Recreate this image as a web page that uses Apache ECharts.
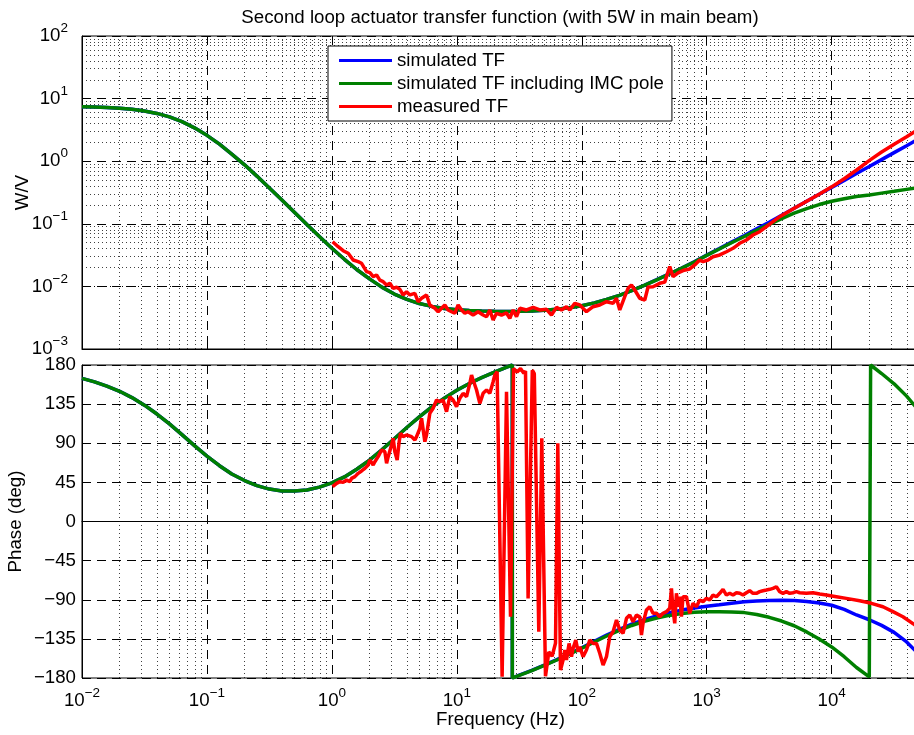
<!DOCTYPE html>
<html>
<head>
<meta charset="utf-8">
<title>Second loop actuator transfer function</title>
<script src="https://cdn.jsdelivr.net/npm/echarts/dist/echarts.min.js"></script>
<style>
  html, body { margin: 0; padding: 0; background: #fff; }
  #chart { width: 914px; height: 735px; }
</style>
</head>
<body>
<div id="chart"></div>
<script>
// ---- Model curves (simulated), sampled every 0.1 decade ----
const simFreq = [
  0.01, 0.0126, 0.0158, 0.02, 0.0251, 0.0316, 0.0398, 0.0501, 0.0631, 0.0794,
  0.1, 0.126, 0.158, 0.2, 0.251, 0.316, 0.398, 0.501, 0.631, 0.794,
  1, 1.26, 1.58, 2, 2.51, 3.16, 3.98, 5.01, 6.31, 7.94,
  10, 12.6, 15.8, 20, 25.1, 31.6, 39.8, 50.1, 63.1, 79.4,
  100, 126, 158, 200, 251, 316, 398, 501, 631, 794,
  1000, 1260, 1580, 2000, 2510, 3160, 3980, 5010, 6310, 7940,
  10000, 12600, 15800, 20000, 25100, 31600, 39800, 50100
];
// simulated TF magnitude (W/V)
const simMag = [
  7.43, 7.34, 7.22, 7.03, 6.75, 6.35, 5.80, 5.10, 4.28, 3.41,
  2.59, 1.87, 1.30, 0.876, 0.578, 0.373, 0.239, 0.153, 0.0975, 0.0627,
  0.0407, 0.0271, 0.0186, 0.0132, 0.00973, 0.00755, 0.00619, 0.00532, 0.00479, 0.00445,
  0.00424, 0.00411, 0.00403, 0.00400, 0.00399, 0.00402, 0.00406, 0.00416, 0.00432, 0.00456,
  0.00492, 0.00545, 0.00619, 0.00721, 0.00859, 0.0104, 0.0128, 0.0158, 0.0197, 0.0248,
  0.0316, 0.0401, 0.0509, 0.0649, 0.0830, 0.106, 0.137, 0.177, 0.229, 0.296,
  0.382, 0.493, 0.637, 0.822, 1.06, 1.37, 1.77, 2.29
];
// simulated TF including IMC pole, magnitude (W/V)
const imcMag = [
  7.43, 7.34, 7.22, 7.03, 6.75, 6.35, 5.80, 5.10, 4.28, 3.41,
  2.59, 1.87, 1.30, 0.876, 0.578, 0.373, 0.239, 0.153, 0.0975, 0.0627,
  0.0407, 0.0271, 0.0186, 0.0132, 0.00973, 0.00755, 0.00619, 0.00532, 0.00479, 0.00445,
  0.00424, 0.00411, 0.00403, 0.00400, 0.00399, 0.00402, 0.00406, 0.00416, 0.00432, 0.00456,
  0.00492, 0.00545, 0.00619, 0.00721, 0.00859, 0.0104, 0.0127, 0.0158, 0.0196, 0.0245,
  0.0313, 0.0395, 0.0498, 0.0627, 0.0787, 0.0980, 0.121, 0.148, 0.175, 0.203,
  0.229, 0.252, 0.272, 0.289, 0.309, 0.330, 0.355, 0.382
];
// simulated TF phase (deg, wrapped to [-180, 180])
const simPhase = [
  164.6, 160.6, 155.8, 149.8, 142.5, 133.8, 123.6, 112.2, 99.9, 87.3,
  75.2, 64.2, 54.7, 47.1, 41.2, 37.3, 35.2, 35.0, 36.3, 39.5,
  44.4, 51.3, 60.1, 70.5, 82.5, 95.1, 108.1, 120.4, 131.9, 141.9,
  150.9, 158.7, 165.5, 171.7, 177.5, -176.8, -171.2, -165.2, -158.9, -152.2,
  -145.2, -137.8, -130.7, -124.0, -118.0, -112.8, -108.5, -104.8, -101.9, -99.5,
  -97.5, -95.8, -94.0, -92.3, -91.3, -90.8, -90.6, -90.8, -92.0, -93.8,
  -96.3, -101.0, -107.5, -113.0, -119.5, -127.5, -138.5, -153.0
];
// simulated TF including IMC pole, phase (deg)
const imcPhase = [
  164.6, 160.6, 155.8, 149.8, 142.5, 133.8, 123.6, 112.2, 99.9, 87.3,
  75.2, 64.2, 54.7, 47.1, 41.2, 37.3, 35.2, 35.0, 36.3, 39.5,
  44.4, 51.3, 60.1, 70.5, 82.5, 95.1, 108.1, 120.4, 131.9, 141.9,
  150.9, 158.7, 165.5, 171.7, 177.5, -177.0, -171.5, -165.5, -159.3, -152.7,
  -145.8, -138.6, -131.7, -125.3, -119.6, -114.8, -111.0, -108.0, -105.9, -104.5,
  -103.8, -103.8, -104.0, -104.8, -106.9, -110.2, -114.5, -119.9, -127.0, -135.2,
  -144.3, -155.5, -167.9, -178.7, 170.2, 158.4, 144.2, 127.2
];
// phase wrap crossings: [frequency, value before, value after]
const simPhaseWraps = [[27.8, 180, -180]];
const imcPhaseWraps = [[27.8, 180, -180], [20500, -180, 180]];

// ---- Measured TF ----
const measMagFreq = [
  1.013, 1.123, 1.231, 1.350, 1.480, 1.623, 1.728, 1.895, 2.014, 2.140,
  2.279, 2.421, 2.573, 2.740, 2.911, 3.093, 3.293, 3.499, 3.719, 3.959,
  4.207, 4.613, 4.902, 5.219, 5.722, 6.081, 6.668, 7.087, 7.544, 8.017,
  8.518, 9.071, 9.638, 10.24, 10.90, 11.59, 12.31, 13.50, 14.80, 16.23,
  17.29, 18.37, 19.52, 20.78, 22.79, 24.98, 26.55, 28.21, 30.04, 31.92,
  36.12, 40.78, 46.13, 52.19, 57.23, 62.75, 68.81, 75.43, 80.17, 87.90,
  96.38, 109.0, 123.1, 139.3, 157.6, 178.0, 189.5, 201.4, 220.8, 234.6,
  249.8, 265.5, 291.1, 319.2, 339.1, 371.8, 420.7, 461.3, 505.8, 537.6,
  589.4, 646.3, 731.1, 801.7, 879.0, 934.0, 1024, 1123, 1271, 1438,
  1623, 1837, 2078, 2346, 2655, 3003, 3392, 3837, 5012, 6310,
  7943, 10000, 12590, 15850, 19950, 25120, 31620, 39810, 50120
];
const measMag = [
  0.0518, 0.0431, 0.0372, 0.0338, 0.0264, 0.0248, 0.0234, 0.0172, 0.0166, 0.0143,
  0.0152, 0.0126, 0.0119, 0.0105, 0.0112, 0.0093, 0.00968, 0.0090, 0.0073, 0.00823,
  0.0073, 0.00776, 0.0057, 0.00646, 0.0073, 0.00505, 0.00447, 0.00394, 0.00447, 0.00505,
  0.0042, 0.00394, 0.00372, 0.00505, 0.0042, 0.00372, 0.00394, 0.00349, 0.00394, 0.00349,
  0.00328, 0.0042, 0.0029, 0.00372, 0.00349, 0.00376, 0.00309, 0.0042, 0.00328, 0.00447,
  0.0042, 0.00463, 0.0042, 0.0043, 0.00349, 0.00463, 0.0042, 0.00474, 0.0042, 0.00537,
  0.00505, 0.00394, 0.00474, 0.00505, 0.0057, 0.00537, 0.00646, 0.0042, 0.00686, 0.00933,
  0.0105, 0.00875, 0.00646, 0.00607, 0.00977, 0.00988, 0.0112, 0.0117, 0.0207, 0.0143,
  0.0164, 0.0179, 0.0190, 0.0220, 0.0264, 0.0248, 0.0264, 0.0298, 0.0318, 0.0358,
  0.0406, 0.0488, 0.0551, 0.0662, 0.0748, 0.0899, 0.108, 0.130, 0.177, 0.229,
  0.296, 0.389, 0.525, 0.724, 1.02, 1.40, 1.86, 2.45, 3.30
];
const measPhaseFreq = [
  1.013, 1.090, 1.159, 1.231, 1.311, 1.393, 1.438, 1.528, 1.623, 1.728,
  1.837, 1.951, 2.014, 2.078, 2.140, 2.208, 2.346, 2.498, 2.655, 2.740,
  2.821, 3.003, 3.093, 3.192, 3.330, 3.455, 3.545, 3.719, 3.959, 4.341,
  4.613, 4.760, 5.058, 5.219, 5.375, 5.546, 5.722, 6.081, 6.461, 6.880,
  7.311, 7.768, 8.273, 8.790, 9.341, 9.945, 10.57, 11.23, 11.96, 12.71,
  13.11, 13.50, 14.38, 15.28, 16.23, 17.29, 18.37, 19.52, 20.14, 21.01,
  23.04, 23.77, 24.98, 26.89, 28.42, 30.37, 32.33, 34.36, 35.45, 37.19,
  40.18, 41.69, 45.29, 47.86, 51.23, 54.45, 57.87, 61.61, 64.27, 67.54,
  70.85, 73.11, 75.43, 79.13, 82.71, 85.19, 89.54, 93.42, 96.38, 102.4,
  109.0, 115.9, 123.1, 131.1, 139.3, 148.1, 157.6, 167.5, 178.0, 189.5,
  201.4, 214.0, 227.9, 242.1, 257.3, 274.0, 291.1, 300.3, 309.3, 329.3,
  349.9, 371.8, 396.0, 420.7, 447.1, 476.0, 505.8, 522.0, 537.6, 554.6,
  572.3, 589.4, 608.1, 627.5, 646.3, 688.1, 731.1, 776.9, 827.1, 879.0,
  934.0, 994.6, 1057, 1123, 1196, 1271, 1350, 1438, 1528, 1623,
  1729, 1837, 1951, 2078, 2208, 2346, 2498, 2655, 2821, 3003,
  3192, 3392, 3611, 3837, 4078, 4341, 4613, 4903, 5219, 5546,
  6275, 7087, 8017, 9070, 10905, 13111, 16749, 20778, 25735, 30934,
  37185, 45290, 50000
];
const measPhase = [
  40.1, 43.9, 45.8, 45.0, 47.7, 45.8, 49.6, 51.6, 55.4, 58.1,
  61.1, 65.0, 70.7, 72.6, 65.0, 68.8, 74.6, 82.2, 80.3, 66.9,
  74.6, 88.0, 95.7, 80.3, 70.7, 91.8, 101.4, 97.6, 99.5, 97.6,
  93.7, 97.6, 107.2, 118.7, 116.7, 91.8, 99.5, 124.4, 130.2, 139.7,
  137.8, 139.8, 126.3, 143.6, 139.8, 132.1, 141.7, 147.4, 143.6, 158.9,
  168.5, 162.7, 151.2, 135.9, 147.4, 151.2, 147.4, 160.8, 168.5, 172.3,
  -178.5, -178.5, 149.3, -109.5, 176.0, 172.0, 176.0, 170.4, 173.0, -88.4,
  174.0, 170.0, -126.7, 95.6, -178.0, -150.0, -155.0, -140.0, 89.9, -170.8,
  -159.3, -147.8, -159.3, -140.2, -155.5, -145.9, -136.3, -149.7, -144.0, -155.5,
  -147.8, -136.3, -140.2, -140.2, -151.6, -165.1, -155.5, -132.5, -126.7, -113.3,
  -124.8, -128.6, -111.4, -107.6, -115.2, -107.6, -109.5, -130.6, -117.1, -101.8,
  -98.0, -105.6, -105.6, -109.5, -105.6, -103.7, -99.9, -76.9, -101.8, -117.1,
  -82.6, -98.0, -86.5, -109.5, -86.5, -86.5, -105.6, -94.1, -98.0, -90.3,
  -92.2, -88.4, -90.3, -84.6, -86.5, -82.6, -78.0, -84.6, -82.6, -84.6,
  -81.9, -82.6, -84.6, -81.9, -79.6, -82.6, -82.6, -80.7, -79.6, -78.8,
  -78.0, -76.9, -75.0, -80.7, -82.6, -80.7, -82.6, -81.9, -80.7, -81.9,
  -82.6, -81.9, -83.4, -84.6, -86.5, -88.4, -91.1, -94.1, -98.0, -103.7,
  -109.5, -117.9, -123.0
];

// ---- Axis ranges ----
const freqMin = 0.01, freqMax = 50000;
const magMin = 0.001, magMax = 100;
const phaseMin = -180, phaseMax = 180, phaseStep = 45;

const FONT = '"Liberation Sans", Arial, Helvetica, sans-serif';
const FS = 18.7;
const BLUE = '#0000ff', GREEN = '#008000', RED = '#ff0000';

function zip(xs, ys) { return xs.map((x, i) => [x, ys[i]]); }
function withWraps(xs, ys, wraps) {
  const pts = zip(xs, ys);
  wraps.forEach(([f, a, b]) => {
    const i = pts.findIndex(p => p[0] > f);
    pts.splice(i, 0, [f, a], [f, b]);
  });
  return pts;
}
// minor log grid positions: 2..9 times each decade
function minorLog(lo, hi) {
  const out = [];
  for (let k = Math.floor(Math.log10(lo)); k <= Math.ceil(Math.log10(hi)); k++) {
    for (let m = 2; m <= 9; m++) {
      const v = m * Math.pow(10, k);
      if (v > lo && v < hi) out.push(v);
    }
  }
  return out;
}
const minus = s => String(s).replace('-', '\u2212');
function powLabel(v) {
  const e = Math.round(Math.log10(v));
  return '{b|10}{e|' + minus(e) + '}';
}
const powRich = {
  b: { fontFamily: FONT, fontSize: FS, color: '#000', lineHeight: 28 },
  e: { fontFamily: FONT, fontSize: 13.5, color: '#000', lineHeight: 13, padding: [0, 0, 15, 0] }
};
const nameStyle = { fontFamily: FONT, fontSize: FS, color: '#000' };

const majorGrid = { show: true, lineStyle: { color: '#000', width: 1, type: [9, 6] } };
const dotted = { color: '#000', width: 1, type: [1, 3], opacity: 0.75 };
const axisLine = { show: true, lineStyle: { color: '#000', width: 1 } };
const tickIn = { show: true, inside: true, length: 5, lineStyle: { color: '#000' } };

function minorLines(xVals, yVals) {
  return {
    silent: true, z: 1, animation: false,
    symbol: ['none', 'none'],
    label: { show: false },
    emphasis: { disabled: true },
    lineStyle: dotted,
    data: xVals.map(v => ({ xAxis: v })).concat(yVals.map(v => ({ yAxis: v })))
  };
}

const lineSeries = (name, color, data, axis) => ({
  name, type: 'line', data,
  xAxisIndex: axis, yAxisIndex: axis,
  showSymbol: false, symbol: 'none', smooth: false, clip: true,
  z: 2,
  lineStyle: { color, width: 3.5 },
  itemStyle: { color },
  emphasis: { disabled: true }
});

const chart = echarts.init(document.getElementById('chart'), null, { renderer: 'canvas' });
chart.setOption({
  animation: false,
  backgroundColor: '#fff',
  textStyle: { fontFamily: FONT },
  title: {
    text: 'Second loop actuator transfer function (with 5W in main beam)',
    left: 500, top: 8, textAlign: 'center', padding: 0,
    textStyle: { fontFamily: FONT, fontSize: FS, fontWeight: 'normal', color: '#000' }
  },
  legend: {
    data: ['simulated TF', 'simulated TF including IMC pole', 'measured TF'],
    orient: 'vertical', left: 328, top: 46,
    padding: [5, 8, 5, 11], itemGap: 4,
    itemWidth: 53, itemHeight: 3, icon: 'rect',
    backgroundColor: '#fff', borderColor: '#000', borderWidth: 1, borderRadius: 0,
    selectedMode: false,
    textStyle: { fontFamily: FONT, fontSize: FS, color: '#000' }
  },
  grid: [
    { left: 82, top: 36, width: 837, height: 313, show: true, borderColor: '#000', borderWidth: 1, outerBoundsMode: 'none', containLabel: false },
    { left: 82, top: 365, width: 837, height: 313, show: true, borderColor: '#000', borderWidth: 1, outerBoundsMode: 'none', containLabel: false }
  ],
  xAxis: [
    { type: 'log', logBase: 10, gridIndex: 0, min: freqMin, max: freqMax,
      axisLine, axisTick: tickIn, axisLabel: { show: false }, splitLine: majorGrid },
    { type: 'log', logBase: 10, gridIndex: 1, min: freqMin, max: freqMax,
      axisLine, axisTick: tickIn, splitLine: majorGrid,
      axisLabel: { formatter: powLabel, rich: powRich, margin: 9, showMaxLabel: false, color: '#000' },
      name: 'Frequency (Hz)', nameLocation: 'middle', nameGap: 32, nameMoveOverlap: false,
      nameTextStyle: nameStyle }
  ],
  yAxis: [
    { type: 'log', logBase: 10, gridIndex: 0, min: magMin, max: magMax,
      axisLine, axisTick: tickIn, splitLine: majorGrid,
      axisLabel: { formatter: powLabel, rich: powRich, margin: 14, color: '#000' },
      name: 'W/V', nameLocation: 'middle', nameGap: 50, nameMoveOverlap: false,
      nameTextStyle: nameStyle },
    { type: 'value', gridIndex: 1, min: phaseMin, max: phaseMax, interval: phaseStep,
      axisLine, axisTick: tickIn, splitLine: majorGrid,
      axisLabel: { formatter: v => minus(v), margin: 6, fontFamily: FONT, fontSize: FS, color: '#000' },
      name: 'Phase (deg)', nameLocation: 'middle', nameGap: 57, nameMoveOverlap: false,
      nameTextStyle: nameStyle }
  ],
  series: [
    { name: 'grid-top', type: 'line', data: [], xAxisIndex: 0, yAxisIndex: 0, silent: true, z: 1,
      markLine: minorLines(minorLog(freqMin, freqMax), minorLog(magMin, magMax)) },
    lineSeries('simulated TF', BLUE, zip(simFreq, simMag), 0),
    lineSeries('simulated TF including IMC pole', GREEN, zip(simFreq, imcMag), 0),
    lineSeries('measured TF', RED, zip(measMagFreq, measMag), 0),
    { name: 'grid-bottom', type: 'line', data: [], xAxisIndex: 1, yAxisIndex: 1, silent: true, z: 1,
      markLine: minorLines(minorLog(freqMin, freqMax), []) },
    lineSeries('simulated TF', BLUE, withWraps(simFreq, simPhase, simPhaseWraps), 1),
    lineSeries('simulated TF including IMC pole', GREEN, withWraps(simFreq, imcPhase, imcPhaseWraps), 1),
    lineSeries('measured TF', RED, zip(measPhaseFreq, measPhase), 1)
  ]
});
</script>
</body>
</html>
